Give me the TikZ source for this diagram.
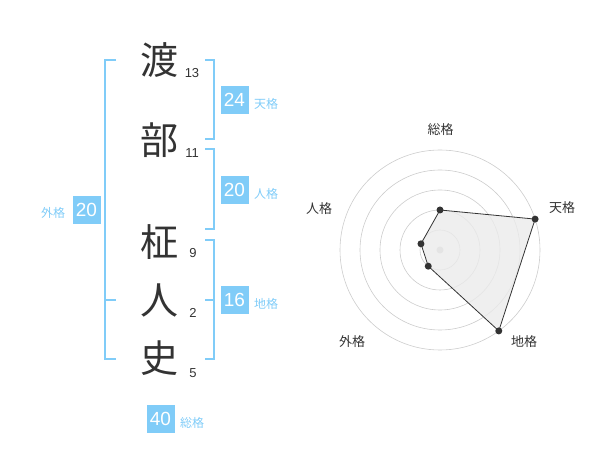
\documentclass[tikz,border=0pt]{standalone}
\usepackage{fontspec}
\setmainfont{Liberation Sans}
\newfontfamily\jpfont{Noto Sans CJK JP}
\usetikzlibrary{calc}
\definecolor{kakublue}{RGB}{128,204,248}
\definecolor{inkgray}{RGB}{51,51,51}

\begin{document}
\begin{tikzpicture}[x=1pt,y=-1pt,
	kanji/.style={font=\jpfont\fontsize{38}{38}\selectfont, text=inkgray, inner sep=0},
	strokes/.style={font=\fontsize{13}{13}\selectfont, text=inkgray, inner sep=0},
	score/.style={fill=kakublue, text=white, font=\fontsize{19}{19}\selectfont, minimum size=28pt, inner sep=0},
	kaku/.style={font=\jpfont\fontsize{12}{12}\selectfont, text=kakublue, inner sep=0},
	bracket/.style={draw=kakublue, line width=2pt},
	ring/.style={draw=black!20, line width=0.6pt},
	axislabel/.style={font=\jpfont\fontsize{13}{13}\selectfont, text=inkgray, inner sep=0},
	dot/.style={circle, fill=inkgray, inner sep=0, minimum size=7pt}]
	\useasboundingbox (0,0) rectangle (600,470);
	
	% name
	\node[kanji] (c1) at (159,60) {渡};
	\node[kanji] (c2) at (159,140) {部};
	\node[kanji] (c3) at (159,242) {柾};
	\node[kanji] (c4) at (159,300) {人};
	\node[kanji] (c5) at (159,358) {史};
	
	\node[strokes] (n1) at (192,73) {13};
	\node[strokes] (n2) at (192,153) {11};
	\node[strokes] (n3) at (193,253) {9};
	\node[strokes] (n4) at (193,313) {2};
	\node[strokes] (n5) at (193,373) {5};
	
	% brackets
	\draw[bracket] (116,60) -- (105,60) -- (105,359) -- (116,359);
	\draw[bracket] (105,300) -- (116,300);
	\draw[bracket] (205,60) -- (214,60) -- (214,139) -- (205,139);
	\draw[bracket] (205,149) -- (214,149) -- (214,229) -- (205,229);
	\draw[bracket] (205,240) -- (214,240) -- (214,359) -- (205,359);
	\draw[bracket] (205,300) -- (214,300);
	
	% scores
	\node[score] (ten) at (234.5,100) {24};
	\node[kaku] (tenl) at (266,104) {天格};
	\node[score] (jin) at (234.5,190) {20};
	\node[kaku] (jinl) at (266,194) {人格};
	\node[score] (chi) at (234.5,300) {16};
	\node[kaku] (chil) at (266,304) {地格};
	\node[score] (gai) at (86.5,210) {20};
	\node[kaku] (gail) at (53,213) {外格};
	\node[score] (sou) at (160.5,419) {40};
	\node[kaku] (soul) at (192,423) {総格};
	
	% radar
	\coordinate (o) at (440,250);
	\foreach \r in {20,40,...,100}
		\draw[ring] (o) circle (\r pt);
	\fill[black!20] (o) circle (3.5pt);
	
	\coordinate (p1) at ($(o)+(-90:40)$);
	\coordinate (p2) at ($(o)+(-18:100)$);
	\coordinate (p3) at ($(o)+(54:100)$);
	\coordinate (p4) at ($(o)+(126:20)$);
	\coordinate (p5) at ($(o)+(198:20)$);
	\filldraw[fill=black!8, fill opacity=0.8, draw=inkgray, line width=0.8pt]
		(p1) -- (p2) -- (p3) -- (p4) -- (p5) -- cycle;
	\foreach \i in {1,...,5}
		\node[dot] (d\i) at (p\i) {};
	
	\node[axislabel] (a1) at (440.5,130) {総格};
	\node[axislabel] (a2) at (562,208) {天格};
	\node[axislabel] (a3) at (524,342) {地格};
	\node[axislabel] (a4) at (352,342) {外格};
	\node[axislabel] (a5) at (319,209) {人格};
\end{tikzpicture}
\end{document}
